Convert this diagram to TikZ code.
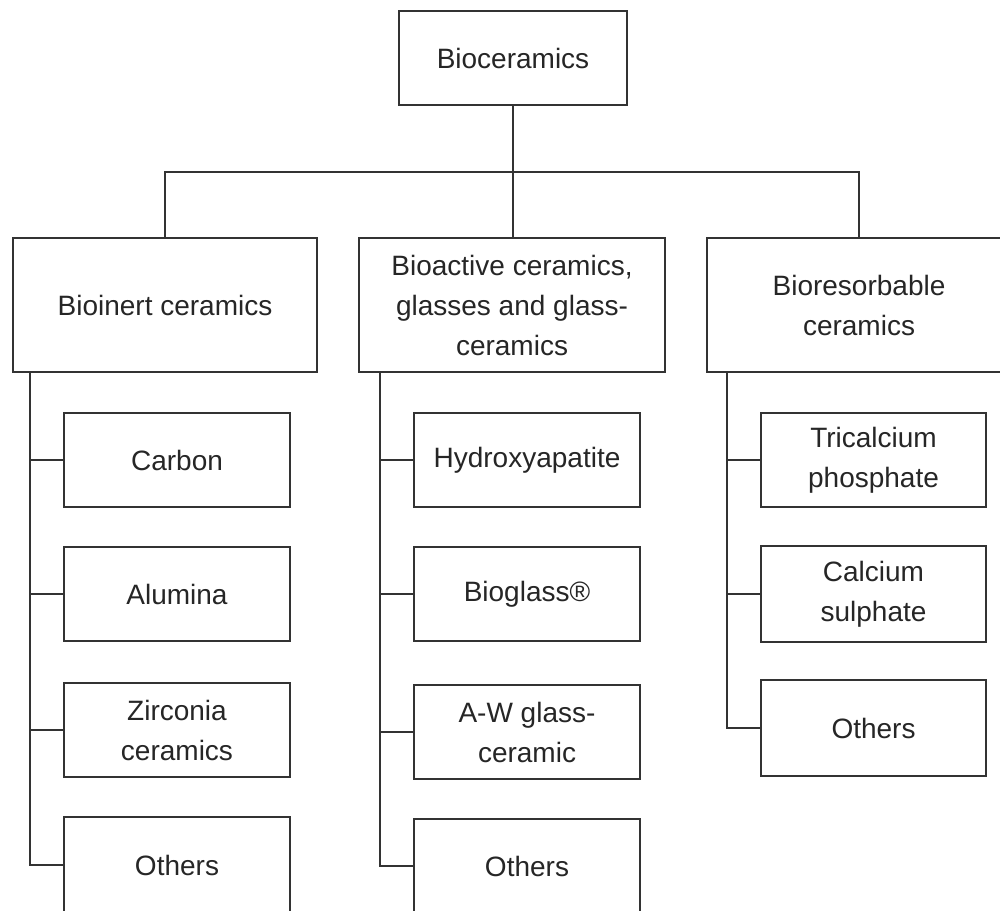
\documentclass[tikz,border=0pt]{standalone}
\usepackage{fontspec}
\setmainfont{Liberation Sans}
\begin{document}
\begin{tikzpicture}[x=1pt,y=-1pt,
  boxnode/.style={draw=black!80, line width=2pt, anchor=north west, inner sep=0pt,
    align=center, text=black!85, font=\fontsize{28}{40}\selectfont},
  link/.style={draw=black!80, line width=2pt}]
\useasboundingbox (0,0) rectangle (1000,910);
\fill[white] (0,0) rectangle (1000,910);
% top
\node[boxnode, minimum width=228pt, minimum height=94pt] (top) at (398,10) {Bioceramics};
% level 1
\node[boxnode, minimum width=304pt, minimum height=134pt] (bi) at (12,237) {Bioinert ceramics};
\node[boxnode, minimum width=306pt, minimum height=134pt] (ba) at (358,237) {Bioactive ceramics,\\glasses and glass-\\ceramics};
\node[boxnode, minimum width=304pt, minimum height=134pt] (br) at (706,237) {Bioresorbable\\ceramics};
% left children
\node[boxnode, minimum width=226pt, minimum height=94pt] (l1) at (63,412) {Carbon};
\node[boxnode, minimum width=226pt, minimum height=94pt] (l2) at (63,546) {Alumina};
\node[boxnode, minimum width=226pt, minimum height=94pt] (l3) at (63,682) {Zirconia\\ceramics};
\node[boxnode, minimum width=226pt, minimum height=96pt] (l4) at (63,816) {Others};
% middle children
\node[boxnode, minimum width=226pt, minimum height=94pt] (m1) at (413,412) {Hydroxyapatite};
\node[boxnode, minimum width=226pt, minimum height=94pt] (m2) at (413,546) {Bioglass\textregistered};
\node[boxnode, minimum width=226pt, minimum height=94pt] (m3) at (413,684) {A-W glass-\\ceramic};
\node[boxnode, minimum width=226pt, minimum height=94pt] (m4) at (413,818) {Others};
% right children
\node[boxnode, minimum width=225pt, minimum height=94pt] (r1) at (760,412) {Tricalcium\\phosphate};
\node[boxnode, minimum width=225pt, minimum height=96pt] (r2) at (760,545) {Calcium\\sulphate};
\node[boxnode, minimum width=225pt, minimum height=96pt] (r3) at (760,679) {Others};
% top connectors
\coordinate (bar) at (512,172);
\draw[link] (top.south) -- (top.south |- ba.north);
\draw[link] (bi.north) |- (bar) -| (br.north);
% trunks
\coordinate (tL) at (30,371);
\coordinate (tM) at (380,371);
\coordinate (tR) at (727,371);
\draw[link] (tL) |- (l4.west);
\foreach \c in {l1,l2,l3} \draw[link] (\c.west) -- (\c.west -| tL);
\draw[link] (tM) |- (m4.west);
\foreach \c in {m1,m2,m3} \draw[link] (\c.west) -- (\c.west -| tM);
\draw[link] (tR) |- (r3.west);
\foreach \c in {r1,r2} \draw[link] (\c.west) -- (\c.west -| tR);
\end{tikzpicture}
\end{document}
